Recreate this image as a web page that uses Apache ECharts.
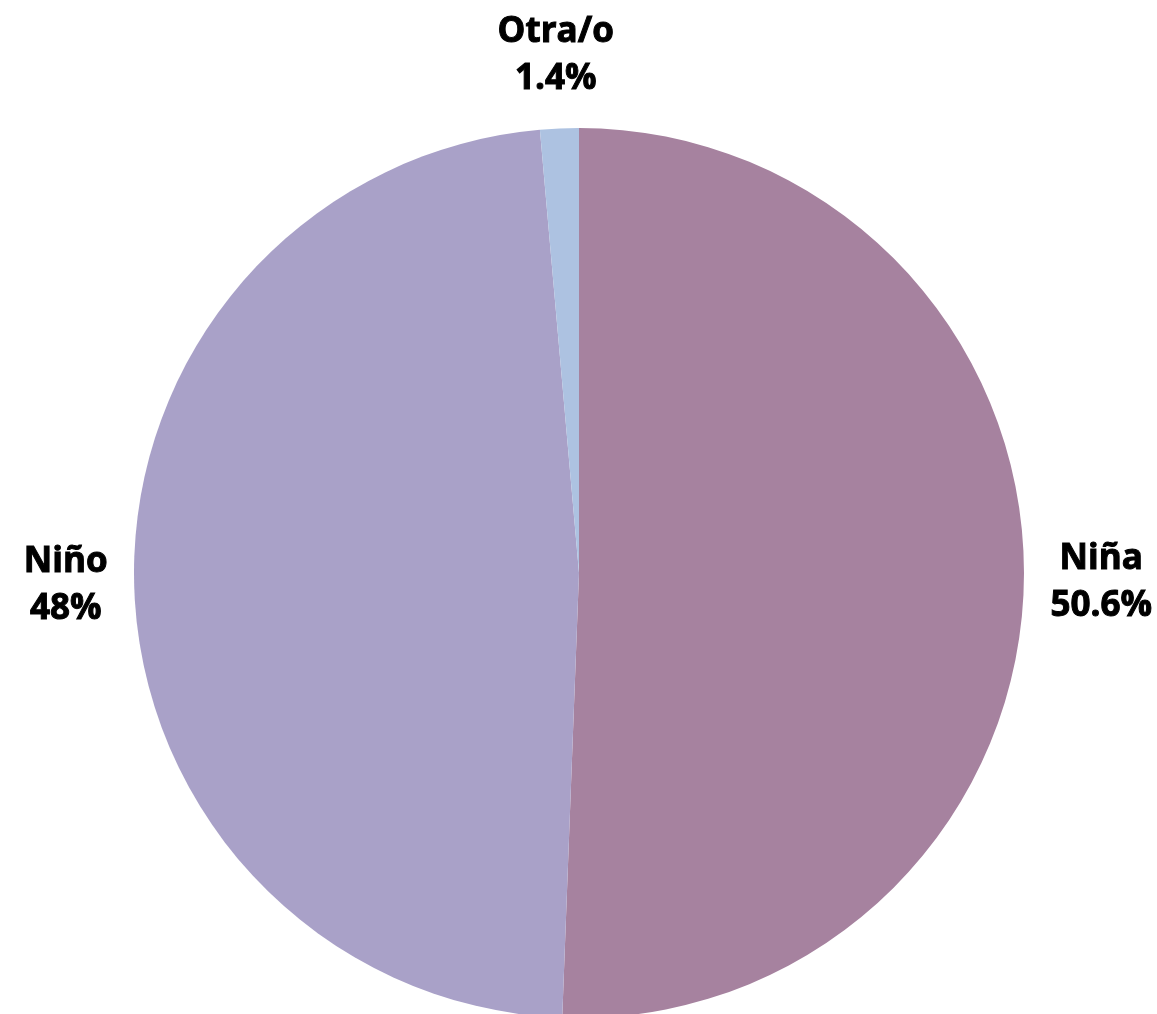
<!DOCTYPE html>
<html>
<head>
<meta charset="utf-8">
<script src="https://cdn.jsdelivr.net/npm/echarts@6/dist/echarts.min.js"></script>
<style>html,body{margin:0;padding:0;background:#fff}#c{width:1157px;height:1014px}</style>
</head>
<body>
<div id="c"></div>
<script>
const categories = ['Niña', 'Niño', 'Otra/o'];
const values = [50.6, 48, 1.4];
const colors = ['#A6829F', '#A9A1C8', '#ADC2E1'];

const CX = 579, CY = 573, R = 445, GAP = 26;
const total = values.reduce((a, b) => a + b, 0);
const midDirs = [];
let acc = 0;
values.forEach(v => {
  const mid = (acc + v / 2) / total;
  const ang = Math.PI / 2 - mid * 2 * Math.PI; // clockwise from top
  midDirs.push([Math.cos(ang), -Math.sin(ang)]);
  acc += v;
});

const chart = echarts.init(document.getElementById('c'), null, {renderer: 'canvas'});
chart.setOption({
  animation: false,
  backgroundColor: '#ffffff',
  series: [{
    type: 'pie',
    center: [CX, CY],
    radius: R,
    startAngle: 90,
    clockwise: true,
    avoidLabelOverlap: false,
    data: categories.map((n, i) => ({name: n, value: values[i], itemStyle: {color: colors[i]}})),
    label: {
      show: true,
      position: 'outside',
      formatter: p => p.name + '\n' + p.value + '%',
      fontFamily: 'Open Sans',
      fontWeight: 'bold',
      fontSize: 35,
      lineHeight: 47,
      color: '#000',
      textBorderColor: '#000',
      textBorderWidth: 1,
      align: 'center'
    },
    labelLayout: function (params) {
      const d = midDirs[params.dataIndex];
      const w = params.labelRect.width, h = params.labelRect.height;
      return {
        x: CX + d[0] * (R + GAP) + d[0] * w / 2,
        y: CY + d[1] * (R + GAP) + d[1] * h / 2,
        align: 'center',
        verticalAlign: 'middle'
      };
    },
    labelLine: {show: false, length: 30, length2: 0},
    emphasis: {disabled: true}
  }]
});
</script>
</body>
</html>
